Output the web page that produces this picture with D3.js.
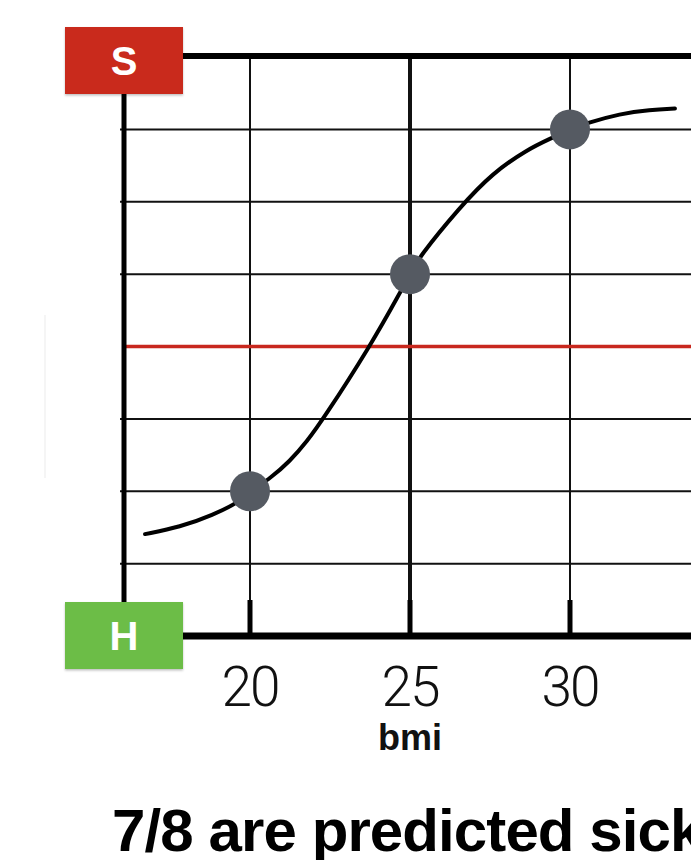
<!DOCTYPE html>
<html>
<head>
<meta charset="utf-8">
<script src="https://cdn.jsdelivr.net/npm/d3@7/dist/d3.min.js"></script>
<style>
  html, body { margin: 0; padding: 0; background: #fff; overflow: hidden; }
  svg { display: block; }
</style>
</head>
<body>
<svg id="chart" width="691" height="860"></svg>
<script>
// ---- data ----
const xTicks = [20, 25, 30];
const xTickLabels = ["20", "25", "30"];
const xLabel = "bmi";
const title = "7/8 are predicted sick";
const yGrid = [0.125, 0.25, 0.375, 0.625, 0.75, 0.875];
const threshold = 0.5;
const topLabel = "S";
const bottomLabel = "H";
const pointsBmi = [20, 25, 30];
const pointsProb = [0.25, 0.625, 0.875];
// logistic curve
const curveBmi  = [16.72, 17.81, 18.84, 19.69, 20.0, 20.63, 21.25, 21.78, 22.28, 23.75, 24.69, 25.0, 25.25, 26.56, 27.59, 28.66, 29.38, 29.94, 30.53, 31.56, 32.5, 33.28];
const curveProb = [0.176, 0.188, 0.209, 0.232, 0.25, 0.272, 0.302, 0.336, 0.374, 0.5, 0.593, 0.625, 0.652, 0.741, 0.8, 0.84, 0.859, 0.873, 0.886, 0.902, 0.909, 0.911];

// ---- layout ----
const svg = d3.select("#chart");
const mLeft = 124, mTop = 57, mBottom = 636, mRight = 760;
const x = d3.scaleLinear().domain([16.0625, 35.9375]).range([mLeft, mRight]);
const y = d3.scaleLinear().domain([0, 1]).range([mBottom, mTop]);

// faint ghost line at left
svg.append("line").attr("x1", 45).attr("x2", 45).attr("y1", 315).attr("y2", 478)
  .attr("stroke", "#f2f2f2").attr("stroke-width", 1.5);

// horizontal grid
svg.append("g").selectAll("line").data(yGrid).join("line")
  .attr("x1", mLeft - 4).attr("x2", mRight)
  .attr("y1", d => y(d)).attr("y2", d => y(d))
  .attr("stroke", "#111").attr("stroke-width", 2);

// vertical grid
svg.append("g").selectAll("line").data(xTicks).join("line")
  .attr("x1", d => x(d)).attr("x2", d => x(d))
  .attr("y1", y(1)).attr("y2", y(0))
  .attr("stroke", "#111").attr("stroke-width", (d, i) => i === 1 ? 4 : 2);

// bottom inner ticks
svg.append("g").selectAll("line").data(xTicks).join("line")
  .attr("x1", d => x(d)).attr("x2", d => x(d))
  .attr("y1", y(0) - 36).attr("y2", y(0))
  .attr("stroke", "#000").attr("stroke-width", 5);

// threshold line
svg.append("line").attr("x1", mLeft).attr("x2", mRight)
  .attr("y1", y(threshold)).attr("y2", y(threshold))
  .attr("stroke", "#c8281e").attr("stroke-width", 3.5);

// frame: left axis, top border, bottom axis
svg.append("line").attr("x1", mLeft).attr("x2", mLeft).attr("y1", y(1)).attr("y2", y(0))
  .attr("stroke", "#000").attr("stroke-width", 5);
svg.append("line").attr("x1", mLeft).attr("x2", mRight).attr("y1", y(1) - 1).attr("y2", y(1) - 1)
  .attr("stroke", "#000").attr("stroke-width", 6);
svg.append("line").attr("x1", mLeft).attr("x2", mRight).attr("y1", y(0)).attr("y2", y(0))
  .attr("stroke", "#000").attr("stroke-width", 7);

// curve
const curveData = curveBmi.map((b, i) => [b, curveProb[i]]);
svg.append("path").datum(curveData)
  .attr("fill", "none").attr("stroke", "#000").attr("stroke-width", 4)
  .attr("stroke-linecap", "round")
  .attr("d", d3.line().x(d => x(d[0])).y(d => y(d[1])).curve(d3.curveBasis));

// points
svg.append("g").selectAll("circle").data(pointsBmi).join("circle")
  .attr("cx", d => x(d)).attr("cy", (d, i) => y(pointsProb[i]))
  .attr("r", 20).attr("fill", "#555a62");

// class boxes
const defs = svg.append("defs");
const f = defs.append("filter").attr("id", "sh").attr("x", "-10%").attr("y", "-10%").attr("width", "130%").attr("height", "130%");
f.append("feDropShadow").attr("dx", 0).attr("dy", 1.5).attr("stdDeviation", 1.2).attr("flood-color", "#000").attr("flood-opacity", 0.25);

const boxes = [
  {label: topLabel, p: 1, color: "#c9291d"},
  {label: bottomLabel, p: 0, color: "#6cbd47"}
];
const bg = svg.append("g").selectAll("g").data(boxes).join("g")
  .attr("transform", d => `translate(${mLeft},${d.p === 1 ? 61 : y(d.p)})`);
bg.append("rect").attr("x", -59).attr("y", -34).attr("width", 118).attr("height", 67)
  .attr("fill", d => d.color).attr("filter", "url(#sh)");
bg.append("text").text(d => d.label)
  .attr("x", 0).attr("y", 14).attr("text-anchor", "middle")
  .attr("font-family", "Liberation Sans, Arial, sans-serif").attr("font-weight", "bold")
  .attr("font-size", 40).attr("fill", "#fff");

// tick labels
svg.append("g").selectAll("text").data(xTicks).join("text")
  .text((d, i) => xTickLabels[i])
  .attr("x", d => x(d)).attr("y", 706).attr("text-anchor", "middle")
  .attr("font-family", "Roboto, sans-serif").attr("font-weight", 300)
  .attr("font-size", 55).attr("letter-spacing", -2).attr("fill", "#111");

// axis label
svg.append("text").text(xLabel)
  .attr("x", x(25)).attr("y", 750).attr("text-anchor", "middle")
  .attr("font-family", "Liberation Sans, Arial, sans-serif").attr("font-weight", "bold")
  .attr("font-size", 36).attr("fill", "#111");

// title (runs off the right edge, as in the original)
svg.append("text").text(title)
  .attr("x", 112).attr("y", 851)
  .attr("font-family", "Liberation Sans, Arial, sans-serif").attr("font-weight", "bold")
  .attr("font-size", 60).attr("letter-spacing", -0.9).attr("fill", "#000");
</script>
</body>
</html>
